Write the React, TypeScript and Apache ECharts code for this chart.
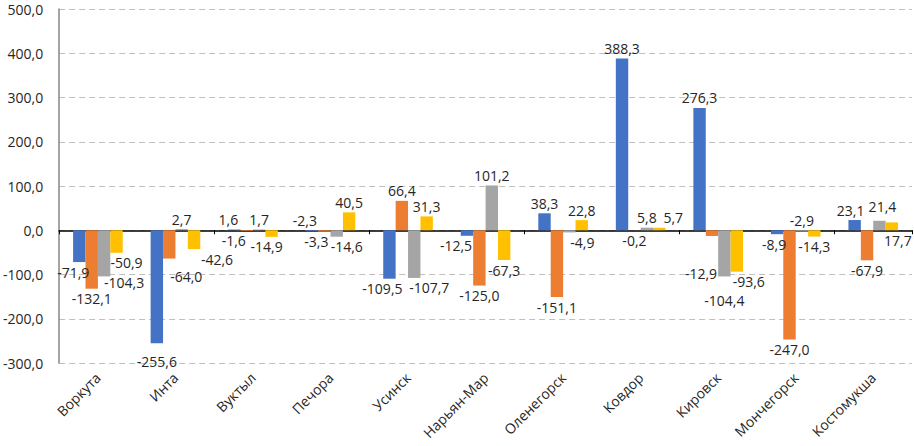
import React, { useEffect, useRef } from "react";
import * as echarts from "echarts";

const categories = [
  "Воркута",
  "Инта",
  "Вуктыл",
  "Печора",
  "Усинск",
  "Нарьян-Мар",
  "Оленегорск",
  "Ковдор",
  "Кировск",
  "Мончегорск",
  "Костомукша",
];
const seriesBlue = [-71.9, -255.6, 1.6, -2.3, -109.5, -12.5, 38.3, 388.3, 276.3, -8.9, 23.1];
const seriesOrange = [-132.1, -64.0, -1.6, -3.3, 66.4, -125.0, -151.1, -0.2, -12.9, -247.0, -67.9];
const seriesGray = [-104.3, 2.7, 1.7, -14.6, -107.7, 101.2, -4.9, 5.8, -104.4, -2.9, 21.4];
const seriesYellow = [-50.9, -42.6, -14.9, 40.5, 31.3, -67.3, 22.8, 5.7, -93.6, -14.3, 17.7];
const yMin = -300;
const yMax = 500;
const yStep = 100;

const seriesNames = ["Ряд 1", "Ряд 2", "Ряд 3", "Ряд 4"];
const seriesColors = ["#4472C4", "#ED7D31", "#A5A5A5", "#FFC000"];

// label placement tweaks: key "series-index"
const labelTweaks: Record<string, { position?: string; offset?: number[] }> = {
  "0-0": { offset: [-6, 0] },
  "2-0": { offset: [20, -4] },
  "3-0": { offset: [10, 0] },
  "0-1": { offset: [0, 8] },
  "1-1": { offset: [17, 8] },
  "3-1": { offset: [23, 0] },
  "0-2": { offset: [-6, 0] },
  "1-2": { offset: [-13, 0] },
  "3-2": { offset: [-5, 0] },
  "0-3": { position: "top", offset: [-7, 0] },
  "1-3": { offset: [-8, 0] },
  "2-3": { offset: [10, 0] },
  "0-4": { offset: [-7, 0] },
  "2-4": { offset: [15, 0] },
  "0-5": { offset: [-11, 0] },
  "2-6": { offset: [13, 0] },
  "3-7": { offset: [14, 0] },
  "1-8": { offset: [-11, 28] },
  "2-8": { offset: [0, 14] },
  "3-8": { offset: [12, 0] },
  "0-9": { offset: [-3, 0] },
  "2-9": { position: "top" },
  "0-10": { offset: [-4, 0] },
  "2-10": { offset: [3, -4] },
  "3-10": { position: "bottom", offset: [6, 0] },
};

const fmt = (v: number) => v.toFixed(1).replace(".", ",");
const FONT = "'Open Sans', sans-serif";

export default function App() {
  const ref = useRef<HTMLDivElement>(null);
  useEffect(() => {
    document.body.style.margin = "0";
    if (!ref.current) return;
    const chart = echarts.init(ref.current, undefined, { renderer: "svg" });
    const all = [seriesBlue, seriesOrange, seriesGray, seriesYellow];
    const series = all.map((arr, s) => ({
      name: seriesNames[s],
      type: "bar",
      xAxisIndex: 0,
      barGap: "0%",
      barCategoryGap: "36%",
      itemStyle: { color: seriesColors[s] },
      label: {
        show: true,
        fontFamily: FONT,
        fontSize: 14,
        color: "#262626",
        distance: 3,
        formatter: (p: any) => fmt(p.value),
      },
      data: arr.map((v, i) => {
        const t = labelTweaks[`${s}-${i}`] || {};
        return {
          value: v,
          label: {
            position: t.position || (v >= 0 ? "top" : "bottom"),
            offset: t.offset || [0, 0],
          },
        };
      }),
    }));
    chart.setOption({
      animation: false,
      grid: { left: 58, right: 2, top: 9, bottom: 83, containLabel: false },
      xAxis: [
        {
          type: "category",
          data: categories,
          axisLine: { onZero: true, lineStyle: { color: "#000", width: 1.5 } },
          axisTick: { show: true, length: 4, lineStyle: { color: "#000", width: 1 } },
          axisLabel: { show: false },
          splitLine: { show: false },
        },
        {
          type: "category",
          data: categories,
          position: "bottom",
          axisLine: { show: false, onZero: false },
          axisTick: { show: false },
          axisLabel: {
            rotate: 45,
            interval: 0,
            margin: 12,
            fontFamily: FONT,
            fontSize: 14,
            color: "#262626",
          },
        },
      ],
      yAxis: {
        type: "value",
        min: yMin,
        max: yMax,
        interval: yStep,
        axisLine: { show: true, lineStyle: { color: "#868686", width: 1.5 } },
        axisTick: { show: false },
        axisLabel: {
          margin: 16,
          fontFamily: FONT,
          fontSize: 14,
          color: "#262626",
          formatter: (v: number) => fmt(v),
        },
        splitLine: {
          show: true,
          lineStyle: { color: "#BFBFBF", type: [6, 4], width: 1 },
        },
      },
      series,
    });
    return () => chart.dispose();
  }, []);
  return <div ref={ref} style={{ width: 914, height: 446 }} />;
}
